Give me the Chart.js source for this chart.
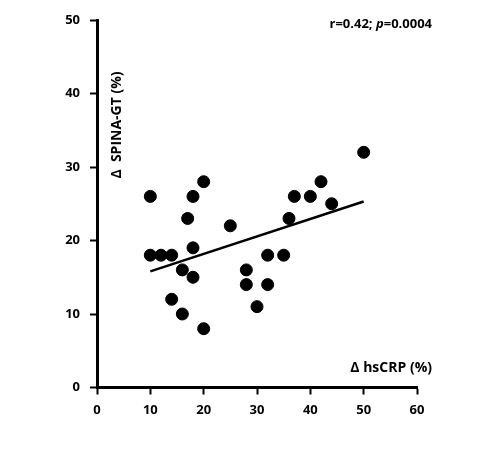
<!DOCTYPE html>
<html><head><meta charset="utf-8">
<script src="https://cdn.jsdelivr.net/npm/chart.js@4"></script>
<style>html,body{margin:0;padding:0;background:#fff}</style>
</head><body><canvas id="c" width="502" height="460"></canvas>
<script>
const xVals=[10,20,18,17,25,10,12,14,18,16,18,14,16,20,28,28,32,32,30,35,36,37,40,42,44,50];
const yVals=[26,28,26,23,22,18,18,18,19,16,15,12,10,8,16,14,14,18,11,18,23,26,26,28,25,32];
const fitX=[10,50];
const fitY=[15.8,25.3];
const FONT='"Open Sans", "Liberation Sans", sans-serif';
const pts=xVals.map((x,i)=>({x,y:yVals[i]}));
const fit=fitX.map((x,i)=>({x,y:fitY[i]}));
const textPlugin={id:'t',afterDraw(ch){const c=ch.ctx;c.save();c.fillStyle='#000';
c.font='bold 14px '+FONT;c.textAlign='right';c.textBaseline='middle';
c.fillText('\u0394 hsCRP (%)',432,368);
const s1='r=0.42; ',s2='p',s3='=0.0004';
c.font='bold 13px '+FONT;const w1=c.measureText(s1).width,w3=c.measureText(s3).width;
c.font='italic bold 13px '+FONT;const w2=c.measureText(s2).width;
let x=432-(w1+w2+w3);c.textAlign='left';
c.font='bold 13px '+FONT;c.fillText(s1,x,24);x+=w1;
c.font='italic bold 13px '+FONT;c.fillText(s2,x,24);x+=w2;
c.font='bold 13px '+FONT;c.fillText(s3,x,24);
c.translate(117,125);c.rotate(-Math.PI/2);c.textAlign='center';c.font='bold 14px '+FONT;
c.fillText('\u0394  SPINA-GT (%)',0,0);c.restore();}};
new Chart(document.getElementById('c'),{type:'scatter',
data:{datasets:[
{data:pts,backgroundColor:'#000',borderColor:'#000',pointRadius:6,pointHoverRadius:6},
{type:'line',data:fit,borderColor:'#000',borderWidth:2.5,pointRadius:0,fill:false}]},
options:{responsive:false,animation:false,events:[],
layout:{padding:{left:0,top:20,right:85,bottom:0}},
plugins:{legend:{display:false},tooltip:{enabled:false}},
scales:{
x:{type:'linear',min:0,max:60,afterFit(s){s.height=72.5;},
ticks:{stepSize:10,color:'#000',font:{family:FONT,weight:'bold',size:13},padding:8},
grid:{drawOnChartArea:false,tickLength:7,tickColor:'#000',tickWidth:2},
border:{color:'#000',width:3}},
y:{min:0,max:50,afterFit(s){s.width=97;},
ticks:{stepSize:10,color:'#000',font:{family:FONT,weight:'bold',size:13},padding:10},
grid:{drawOnChartArea:false,tickLength:7,tickColor:'#000',tickWidth:2},
border:{color:'#000',width:3}}}},
plugins:[textPlugin]});
</script></body></html>
